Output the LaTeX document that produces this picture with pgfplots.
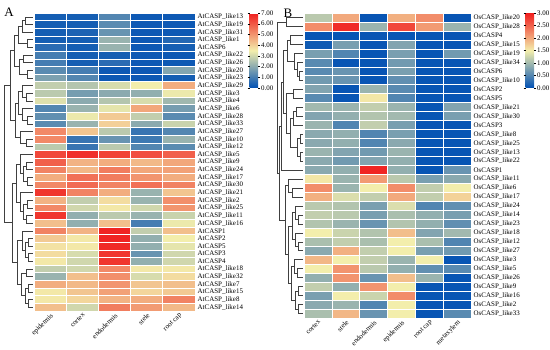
\documentclass[border=0pt]{standalone}
\usepackage{pgfplots}
\pgfplotsset{compat=1.18}
\usepackage{fontspec}
\setmainfont{Liberation Serif}
\newcommand\lbl{\fontsize{7}{8}\selectfont}
\pgfdeclareplotmark{cellA}{\pgfpathrectangle{\pgfpoint{-16.1bp}{-3.821bp}}{\pgfpoint{32.2bp}{7.641bp}}\pgfusepathqfillstroke}
\pgfdeclareplotmark{cellB}{\pgfpathrectangle{\pgfpoint{-13.917bp}{-4.485bp}}{\pgfpoint{27.833bp}{8.971bp}}\pgfusepathqfillstroke}
\pgfplotsset{
  tbmap/.style={colormap={tb}{rgb255=(0,80,180) rgb255=(243,238,172) rgb255=(240,30,30)}},
  heat/.style={
    scale only axis, enlargelimits=false, y dir=reverse, clip=false,
    axis line style={draw=none},
    major tick length=0pt, minor tick length=0pt,
    xticklabel style={rotate=45, anchor=north east, font=\lbl, inner sep=1pt},
    yticklabel pos=right,
    yticklabel style={anchor=west, font=\lbl, inner sep=0pt, xshift=2.5bp},
    tbmap,
  },
  cells/.style={scatter, only marks, mark=#1,
    scatter/use mapped color={draw=white, fill=mapped color},
    mark options={line width=0.6pt}},
  dendro/.style={
    scale only axis, hide axis, enlargelimits=false, y dir=reverse,
  },
  cbar/.style={
    colorbar style={
      at={(parent axis.north east)}, anchor=north west, xshift=46bp,
      width=8.5bp, height=75bp, scale only axis,
      axis line style={draw=none},
      major tick length=2bp, tick style={black, line width=0.4pt},
      tick align=outside,
      yticklabel style={font=\lbl, inner sep=1pt,
        /pgf/number format/.cd, fixed, fixed zerofill, precision=2, assume math mode=true},
      #1
    }
  }
}
\begin{document}
\begin{tikzpicture}
\useasboundingbox (0,0) rectangle (550bp,350bp);
\node[font=\fontsize{13}{14}\selectfont] at (9bp,338bp) {A};
\node[font=\fontsize{13}{14}\selectfont] at (288bp,337bp) {B};

% ---------------- Panel A heatmap ----------------
\begin{axis}[heat,
  at={(34bp,39bp)}, anchor=south west, width=161bp, height=298bp,
  xmin=-0.5, xmax=4.5, ymin=-0.5, ymax=38.5,
  xtick={0,...,4}, xticklabels={epidermis,cortex,endodermis,stele,root cap},
  ytick={0,...,38},
  yticklabels={AtCASP\_like13,AtCASP\_like19,AtCASP\_like31,AtCASP\_like1,AtCASP6,AtCASP\_like22,AtCASP\_like26,AtCASP\_like20,AtCASP\_like23,AtCASP\_like29,AtCASP\_like3,AtCASP\_like4,AtCASP\_like6,AtCASP\_like28,AtCASP\_like33,AtCASP\_like27,AtCASP\_like10,AtCASP\_like12,AtCASP\_like5,AtCASP\_like9,AtCASP\_like24,AtCASP\_like17,AtCASP\_like30,AtCASP\_like21,AtCASP\_like2,AtCASP\_like25,AtCASP\_like11,AtCASP\_like16,AtCASP1,AtCASP2,AtCASP5,AtCASP3,AtCASP4,AtCASP\_like18,AtCASP\_like32,AtCASP\_like7,AtCASP\_like15,AtCASP\_like8,AtCASP\_like14},
  point meta min=0, point meta max=7,
  colorbar, cbar={ytick={0,1,...,7}},
]
\addplot[cells=cellA, point meta=\thisrow{v}]
 table[row sep=\\, x expr={\coordindex-5*floor((\coordindex+0.5)/5)}, y expr={floor((\coordindex+0.5)/5)}]{
v\\
0.3\\0.3\\1.2\\0.2\\0.2\\
0.3\\0.3\\1.3\\0.2\\0.2\\
0.3\\0.4\\1.5\\0.2\\0.2\\
0.3\\0.3\\2.2\\0.2\\0.5\\
0.6\\0.3\\2.2\\0.2\\0.3\\
1.0\\0.3\\0.3\\0.2\\0.2\\
1.0\\0.3\\0.6\\0.2\\0.2\\
1.3\\1.0\\0.2\\0.2\\1.9\\
1.8\\1.2\\0.2\\0.2\\0.3\\
2.8\\2.6\\3.1\\3.5\\4.6\\
2.7\\1.7\\2.0\\2.1\\3.4\\
3.2\\2.0\\2.6\\3.1\\2.3\\
1.2\\2.2\\3.3\\4.7\\1.7\\
1.4\\3.4\\4.1\\2.8\\1.3\\
1.3\\2.2\\4.0\\2.0\\2.9\\
5.2\\4.2\\2.7\\0.8\\1.2\\
5.2\\0.8\\1.5\\0.9\\2.2\\
2.7\\0.8\\2.7\\1.2\\1.3\\
6.3\\6.7\\6.4\\6.2\\5.9\\
5.9\\4.5\\4.6\\4.4\\4.7\\
5.3\\4.4\\5.4\\4.7\\4.8\\
4.6\\5.6\\5.4\\5.0\\4.6\\
5.2\\5.7\\5.3\\5.6\\5.3\\
6.6\\5.3\\4.6\\2.2\\4.2\\
4.5\\2.8\\3.8\\2.2\\5.1\\
5.2\\3.0\\3.6\\3.0\\5.0\\
6.6\\2.1\\2.7\\2.2\\2.9\\
4.3\\2.1\\4.3\\1.0\\3.4\\
5.3\\4.5\\6.9\\2.8\\4.3\\
4.1\\3.6\\6.9\\2.1\\3.5\\
3.7\\3.6\\6.8\\2.1\\3.3\\
3.8\\3.1\\6.6\\1.5\\3.0\\
3.6\\3.0\\6.6\\2.1\\3.0\\
2.8\\3.0\\5.2\\3.6\\3.6\\
2.2\\4.3\\5.1\\3.1\\3.8\\
4.6\\4.4\\5.0\\4.2\\4.3\\
3.6\\4.2\\4.8\\3.9\\4.1\\
3.6\\3.9\\4.5\\4.6\\5.3\\
4.3\\3.0\\5.4\\4.9\\4.4\\
};
\end{axis}

% ---------------- Panel A dendrogram ----------------
\begin{axis}[dendro,
  at={(0bp,39bp)}, anchor=south west, width=34bp, height=298bp,
  xmin=0, xmax=34, ymin=-0.5, ymax=38.5]
\addplot[black!75, line width=0.5pt, unbounded coords=jump] table[row sep=\\]{
x y\\
33 0\\25 0\\25 1\\33 1\\nan nan\\
25 0.5\\22 0.5\\22 2\\33 2\\nan nan\\
33 3\\27 3\\27 4\\33 4\\nan nan\\
22 1.25\\18 1.25\\18 3.5\\27 3.5\\nan nan\\
33 5\\23 5\\23 6\\33 6\\nan nan\\
33 7\\27 7\\27 8\\33 8\\nan nan\\
23 5.5\\19 5.5\\19 7.5\\27 7.5\\nan nan\\
18 2.375\\14 2.375\\14 6.5\\19 6.5\\nan nan\\
33 10\\26 10\\26 11\\33 11\\nan nan\\
33 9\\22 9\\22 10.5\\26 10.5\\nan nan\\
33 13\\27 13\\27 14\\33 14\\nan nan\\
33 12\\22 12\\22 13.5\\27 13.5\\nan nan\\
22 9.75\\18 9.75\\18 12.75\\22 12.75\\nan nan\\
33 16\\26 16\\26 17\\33 17\\nan nan\\
33 15\\20 15\\20 16.5\\26 16.5\\nan nan\\
18 11.25\\15 11.25\\15 15.75\\20 15.75\\nan nan\\
14 4.4375\\10 4.4375\\10 13.5\\15 13.5\\nan nan\\
33 19\\26 19\\26 20\\33 20\\nan nan\\
33 21\\27 21\\27 22\\33 22\\nan nan\\
26 19.5\\23 19.5\\23 21.5\\27 21.5\\nan nan\\
33 18\\20 18\\20 20.5\\23 20.5\\nan nan\\
33 24\\27 24\\27 25\\33 25\\nan nan\\
33 26\\26 26\\26 27\\33 27\\nan nan\\
27 24.5\\23 24.5\\23 26.5\\26 26.5\\nan nan\\
33 23\\20 23\\20 25.5\\23 25.5\\nan nan\\
20 19.25\\16 19.25\\16 24.25\\20 24.25\\nan nan\\
33 29\\28 29\\28 30\\33 30\\nan nan\\
33 31\\28 31\\28 32\\33 32\\nan nan\\
28 29.5\\25 29.5\\25 31.5\\28 31.5\\nan nan\\
33 28\\22 28\\22 30.5\\25 30.5\\nan nan\\
33 33\\26 33\\26 34\\33 34\\nan nan\\
33 35\\28 35\\28 36\\33 36\\nan nan\\
33 37\\28 37\\28 38\\33 38\\nan nan\\
28 35.5\\25 35.5\\25 37.5\\28 37.5\\nan nan\\
26 33.5\\21 33.5\\21 36.5\\25 36.5\\nan nan\\
22 29.25\\17 29.25\\17 35\\21 35\\nan nan\\
16 21.75\\12 21.75\\12 32.125\\17 32.125\\nan nan\\
10 8.96875\\4 8.96875\\4 26.9375\\12 26.9375\\
};
\end{axis}

% ---------------- Panel B heatmap ----------------
\begin{axis}[heat,
  at={(304bp,32bp)}, anchor=south west, width=167bp, height=305bp,
  xmin=-0.5, xmax=5.5, ymin=-0.5, ymax=33.5,
  xtick={0,...,5}, xticklabels={cortex,stele,endodermis,epidermis,root cap,metaxylem},
  ytick={0,...,33},
  yticklabels={OsCASP\_like20,OsCASP\_like28,OsCASP4,OsCASP\_like15,OsCASP\_like19,OsCASP\_like34,OsCASP6,OsCASP\_like10,OsCASP2,OsCASP5,OsCASP\_like21,OsCASP\_like30,OsCASP3,OsCASP\_like8,OsCASP\_like25,OsCASP\_like13,OsCASP\_like22,OsCASP1,OsCASP\_like11,OsCASP\_like6,OsCASP\_like17,OsCASP\_like24,OsCASP\_like14,OsCASP\_like23,OsCASP\_like18,OsCASP\_like12,OsCASP\_like27,OsCASP\_like3,OsCASP\_like5,OsCASP\_like26,OsCASP\_like9,OsCASP\_like16,OsCASP\_like2,OsCASP\_like33},
  point meta min=0, point meta max=3,
  colorbar, cbar={ytick={0,0.5,...,3}},
]
\addplot[cells=cellB, point meta=\thisrow{v}]
 table[row sep=\\, x expr={\coordindex-6*floor((\coordindex+0.5)/6)}, y expr={floor((\coordindex+0.5)/6)}]{
v\\
1.15\\2.0\\0.05\\1.95\\2.2\\0.05\\
2.2\\2.9\\0.95\\2.7\\2.1\\0.95\\
0.05\\0.05\\0.05\\0.05\\0.05\\0.05\\
0.1\\0.75\\0.05\\0.8\\0.05\\0.05\\
0.75\\0.5\\0.05\\0.75\\0.05\\0.7\\
0.55\\0.05\\0.05\\0.7\\0.05\\0.05\\
0.55\\0.65\\0.05\\0.75\\0.05\\0.05\\
0.7\\0.65\\0.05\\0.6\\0.05\\0.05\\
0.8\\0.05\\0.95\\0.55\\0.05\\0.05\\
0.55\\0.05\\1.55\\0.5\\0.05\\0.05\\
1.0\\0.95\\1.2\\0.95\\0.05\\0.8\\
0.8\\0.9\\1.1\\1.0\\0.05\\0.75\\
0.95\\0.5\\1.2\\0.75\\0.05\\0.05\\
0.85\\0.9\\0.5\\0.75\\0.05\\0.05\\
0.85\\0.9\\0.5\\0.85\\0.05\\0.05\\
0.95\\0.8\\0.7\\0.95\\0.05\\0.05\\
0.85\\0.7\\0.8\\0.9\\0.05\\0.05\\
0.85\\0.9\\2.95\\0.9\\0.05\\0.65\\
1.55\\0.95\\2.1\\1.15\\0.75\\0.85\\
2.2\\0.95\\1.5\\2.2\\1.2\\1.5\\
1.95\\1.35\\1.2\\2.0\\1.2\\1.7\\
1.15\\1.1\\0.75\\1.35\\0.5\\0.6\\
1.2\\1.15\\0.75\\1.05\\0.9\\0.75\\
1.1\\0.95\\0.65\\1.1\\0.9\\0.6\\
1.5\\1.25\\1.1\\1.85\\0.8\\1.0\\
1.05\\1.2\\1.05\\1.5\\1.05\\0.5\\
0.85\\1.95\\1.2\\1.5\\0.75\\0.7\\
1.9\\1.5\\1.2\\0.95\\1.5\\0.05\\
1.5\\2.15\\1.15\\0.9\\0.6\\0.55\\
0.9\\2.15\\0.65\\1.85\\0.95\\0.05\\
1.2\\0.9\\2.15\\1.5\\0.05\\0.05\\
0.75\\1.5\\1.25\\2.2\\0.05\\0.05\\
0.85\\0.95\\0.5\\1.5\\0.05\\0.05\\
1.05\\1.9\\0.65\\1.5\\0.05\\0.55\\
};
\end{axis}

% ---------------- Panel B dendrogram ----------------
\begin{axis}[dendro,
  at={(276bp,32bp)}, anchor=south west, width=28bp, height=305bp,
  xmin=276, xmax=304, ymin=-0.5, ymax=33.5]
\addplot[black!75, line width=0.5pt, unbounded coords=jump] table[row sep=\\]{
x y\\
303 0\\286 0\\286 1\\303 1\\nan nan\\
303 2\\290 2\\290 3\\303 3\\nan nan\\
303 6\\299 6\\299 7\\303 7\\nan nan\\
303 5\\297 5\\297 6.5\\299 6.5\\nan nan\\
303 4\\294 4\\294 5.75\\297 5.75\\nan nan\\
290 2.5\\287 2.5\\287 4.875\\294 4.875\\nan nan\\
303 8\\293 8\\293 9\\303 9\\nan nan\\
303 10\\296 10\\296 11\\303 11\\nan nan\\
296 10.5\\293 10.5\\293 12\\303 12\\nan nan\\
303 13\\300 13\\300 14\\303 14\\nan nan\\
303 15\\300 15\\300 16\\303 16\\nan nan\\
300 13.5\\297 13.5\\297 15.5\\300 15.5\\nan nan\\
293 11.25\\290 11.25\\290 14.5\\297 14.5\\nan nan\\
293 8.5\\286 8.5\\286 12.875\\290 12.875\\nan nan\\
287 3.6875\\283 3.6875\\283 10.6875\\286 10.6875\\nan nan\\
283 7.1875\\281 7.1875\\281 17\\303 17\\nan nan\\
303 19\\292 19\\292 20\\303 20\\nan nan\\
303 18\\288 18\\288 19.5\\292 19.5\\nan nan\\
303 22\\298 22\\298 23\\303 23\\nan nan\\
303 21\\295 21\\295 22.5\\298 22.5\\nan nan\\
303 25\\298 25\\298 26\\303 26\\nan nan\\
303 24\\295 24\\295 25.5\\298 25.5\\nan nan\\
295 21.75\\292 21.75\\292 24.75\\295 24.75\\nan nan\\
303 28\\297 28\\297 29\\303 29\\nan nan\\
303 27\\294 27\\294 28.5\\297 28.5\\nan nan\\
303 30\\298 30\\298 31\\303 31\\nan nan\\
303 32\\298 32\\298 33\\303 33\\nan nan\\
298 30.5\\295 30.5\\295 32.5\\298 32.5\\nan nan\\
294 27.75\\291 27.75\\291 31.5\\295 31.5\\nan nan\\
292 23.25\\288 23.25\\288 29.625\\291 29.625\\nan nan\\
288 18.75\\285 18.75\\285 26.4375\\288 26.4375\\nan nan\\
281 12.09375\\279 12.09375\\279 22.59375\\285 22.59375\\nan nan\\
286 0.5\\277 0.5\\277 17.34375\\279 17.34375\\
};
\end{axis}
\end{tikzpicture}
\end{document}
